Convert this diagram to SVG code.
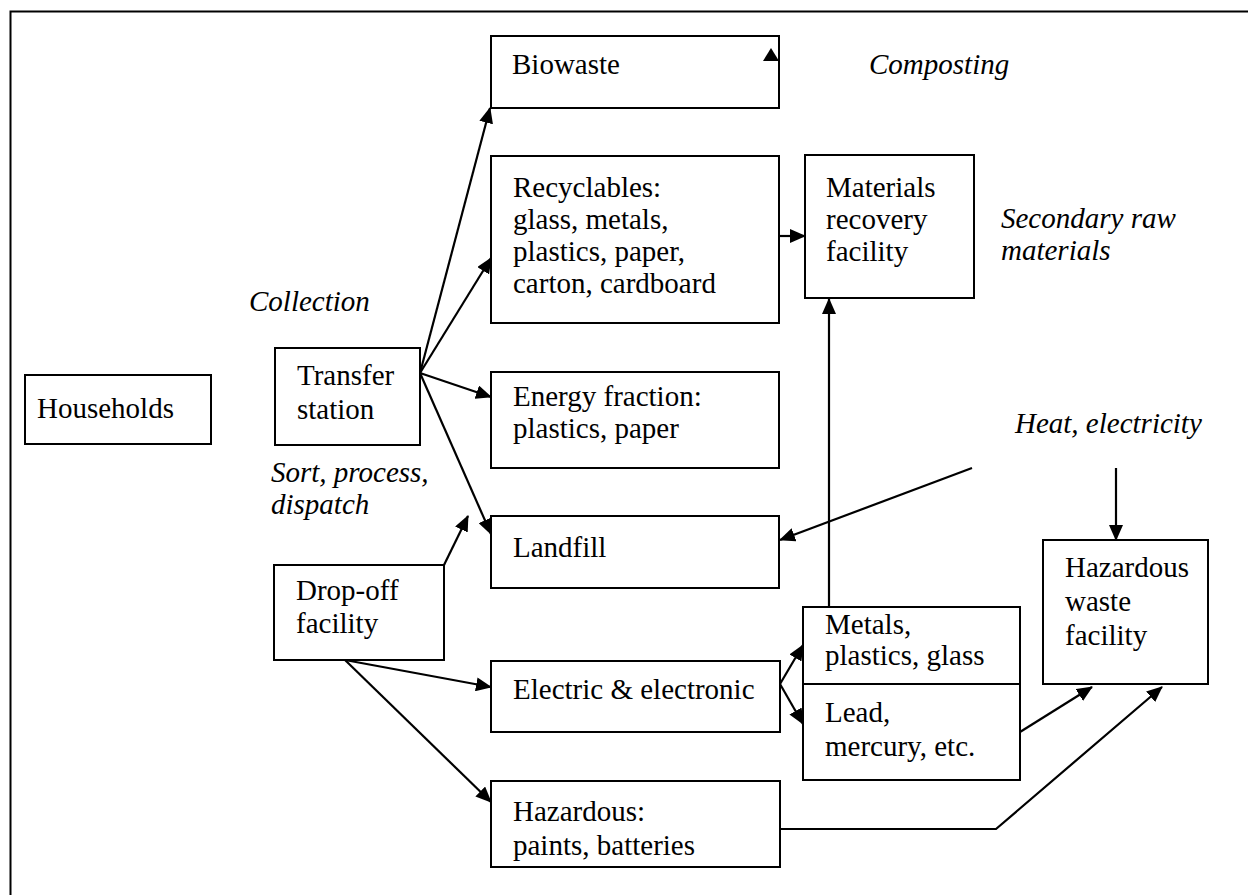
<svg xmlns="http://www.w3.org/2000/svg" width="1248" height="895" viewBox="0 0 1248 895">
  <style>
    .box { fill: #ffffff; stroke: #000000; stroke-width: 2; }
    .t { font-family: "Liberation Serif", "Times New Roman", serif; font-size: 29px; fill: #000000; }
    .i { font-style: italic; }
    .c { fill: none; stroke: #000000; stroke-width: 2.2; }
  </style>
  <defs>
    <marker id="arrow" markerUnits="userSpaceOnUse" markerWidth="16" markerHeight="14" refX="15" refY="7" orient="auto">
      <path d="M0,0 L16,7 L0,14 Z" fill="#000000"/>
    </marker>
  </defs>

  <rect width="1248" height="895" fill="#ffffff"/>
  <!-- page frame -->
  <rect x="10.5" y="11.5" width="1260" height="910" fill="none" stroke="#000000" stroke-width="2"/>

  <!-- nodes -->
  <g id="households">
    <rect class="box" x="25" y="375" width="186" height="69"/>
    <text class="t" x="37" y="418">Households</text>
  </g>
  <g id="transfer-station">
    <rect class="box" x="275" y="348" width="145" height="97"/>
    <text class="t" x="297" y="385">Transfer</text>
    <text class="t" x="297" y="419">station</text>
  </g>
  <g id="dropoff-facility">
    <rect class="box" x="274" y="565" width="170" height="95"/>
    <text class="t" x="296" y="600">Drop-off</text>
    <text class="t" x="296" y="633">facility</text>
  </g>
  <g id="biowaste">
    <rect class="box" x="491" y="36" width="288" height="72"/>
    <text class="t" x="512" y="74">Biowaste</text>
    <polygon points="763,61 771,48 779,61" fill="#000000"/>
  </g>
  <g id="recyclables">
    <rect class="box" x="491" y="156" width="288" height="167"/>
    <text class="t" x="513" y="197">Recyclables:</text>
    <text class="t" x="513" y="229">glass, metals,</text>
    <text class="t" x="513" y="261">plastics, paper,</text>
    <text class="t" x="513" y="293">carton, cardboard</text>
  </g>
  <g id="energy-fraction">
    <rect class="box" x="491" y="372" width="288" height="96"/>
    <text class="t" x="513" y="406">Energy fraction:</text>
    <text class="t" x="513" y="438">plastics, paper</text>
  </g>
  <g id="landfill">
    <rect class="box" x="491" y="516" width="288" height="72"/>
    <text class="t" x="513" y="557">Landfill</text>
  </g>
  <g id="electric-electronic">
    <rect class="box" x="491" y="661" width="289" height="71"/>
    <text class="t" x="513" y="699">Electric &amp; electronic</text>
  </g>
  <g id="hazardous">
    <rect class="box" x="491" y="781" width="289" height="86"/>
    <text class="t" x="513" y="821">Hazardous:</text>
    <text class="t" x="513" y="855">paints, batteries</text>
  </g>
  <g id="materials-recovery">
    <rect class="box" x="805" y="155" width="169" height="143"/>
    <text class="t" x="826" y="197">Materials</text>
    <text class="t" x="826" y="229">recovery</text>
    <text class="t" x="826" y="261">facility</text>
  </g>
  <g id="metals-plastics-glass">
    <rect class="box" x="803" y="607" width="217" height="77"/>
    <text class="t" x="825" y="634">Metals,</text>
    <text class="t" x="825" y="665">plastics, glass</text>
  </g>
  <g id="lead-mercury">
    <rect class="box" x="803" y="684" width="217" height="96"/>
    <text class="t" x="825" y="722">Lead,</text>
    <text class="t" x="825" y="756">mercury, etc.</text>
  </g>
  <g id="hazardous-facility">
    <rect class="box" x="1043" y="540" width="165" height="144"/>
    <text class="t" x="1065" y="577">Hazardous</text>
    <text class="t" x="1065" y="611">waste</text>
    <text class="t" x="1065" y="645">facility</text>
  </g>

  <!-- process labels -->
  <g id="labels">
    <text class="t i" x="869" y="74">Composting</text>
    <text class="t i" x="1001" y="228">Secondary raw</text>
    <text class="t i" x="1001" y="260">materials</text>
    <text class="t i" x="249" y="311">Collection</text>
    <text class="t i" x="271" y="482">Sort, process,</text>
    <text class="t i" x="271" y="514">dispatch</text>
    <text class="t i" x="1015" y="433">Heat, electricity</text>
  </g>

  <!-- connectors -->
  <g id="connectors">
    <line class="c" x1="420" y1="373" x2="490" y2="108" marker-end="url(#arrow)"/>
    <line class="c" x1="420" y1="373" x2="491" y2="258" marker-end="url(#arrow)"/>
    <line class="c" x1="420" y1="373" x2="491" y2="397" marker-end="url(#arrow)"/>
    <line class="c" x1="420" y1="373" x2="491" y2="534" marker-end="url(#arrow)"/>
    <line class="c" x1="444" y1="565" x2="468" y2="516" marker-end="url(#arrow)"/>
    <line class="c" x1="779" y1="236" x2="805" y2="236" marker-end="url(#arrow)"/>
    <line class="c" x1="829" y1="607" x2="829" y2="299" marker-end="url(#arrow)"/>
    <line class="c" x1="972" y1="468" x2="780" y2="540" marker-end="url(#arrow)"/>
    <line class="c" x1="1116" y1="468" x2="1116" y2="540" marker-end="url(#arrow)"/>
    <line class="c" x1="345" y1="660" x2="491" y2="687" marker-end="url(#arrow)"/>
    <line class="c" x1="345" y1="660" x2="491" y2="802" marker-end="url(#arrow)"/>
    <line class="c" x1="780" y1="684" x2="803" y2="645" marker-end="url(#arrow)"/>
    <line class="c" x1="780" y1="684" x2="803" y2="724" marker-end="url(#arrow)"/>
    <line class="c" x1="1020" y1="732" x2="1092" y2="687" marker-end="url(#arrow)"/>
    <polyline class="c" points="780,829 996,829 1162,687" marker-end="url(#arrow)"/>
  </g>
</svg>
